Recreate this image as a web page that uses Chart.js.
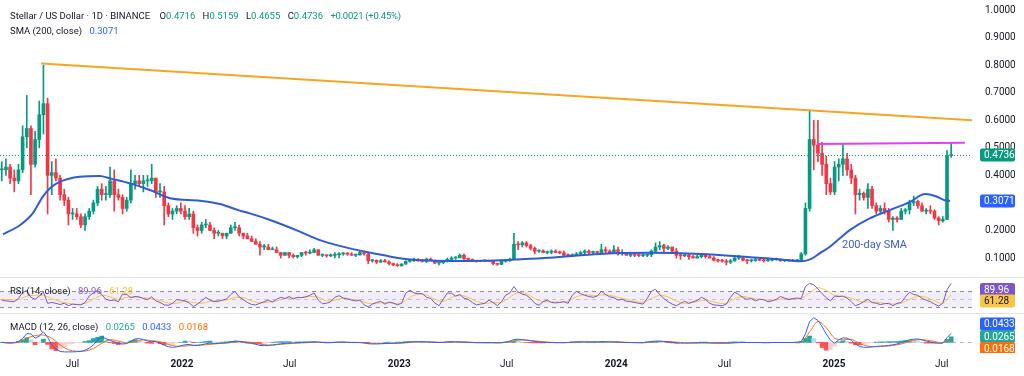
<!DOCTYPE html>
<html>
<head>
<meta charset="utf-8">
<title>Stellar / US Dollar</title>
<script src="https://cdn.jsdelivr.net/npm/chart.js@4.4.1/dist/chart.umd.min.js"></script>
<style>
  body { margin: 0; width: 1024px; height: 376px; overflow: hidden; background: #fff;
         font-family: Roboto, "Liberation Sans", sans-serif; color: #131722; }
  canvas { position: absolute; left: 0; }
  .sep { position: absolute; left: 0; width: 1024px; height: 1px; background: #e0e3eb; }
  .legend { position: absolute; left: 10px; font-size: 9.5px; line-height: 12px; white-space: nowrap; }
  .legend .v { margin-left: 5px; }
  .tight { letter-spacing: -0.25px; }
  .up { color: #089981; }
  .note { position: absolute; left: 842px; top: 238px; font-size: 11px; line-height: 13px; color: #3d5bd1; }
</style>
</head>
<body>
<canvas id="priceChart" width="1024" height="277" style="top:0"></canvas>
<canvas id="rsiChart" width="1024" height="36" style="top:277px"></canvas>
<canvas id="macdChart" width="1024" height="63" style="top:313px"></canvas>
<div class="sep" style="top:277px"></div>
<div class="sep" style="top:313px"></div>

<div class="legend" style="top:10px">Stellar / US Dollar · 1D · BINANCE
  <span class="v" style="margin-left:7px">O<span class="up">0.4716</span></span>
  <span class="v">H<span class="up">0.5159</span></span>
  <span class="v">L<span class="up">0.4655</span></span>
  <span class="v">C<span class="up">0.4736</span></span>
  <span class="v up tight">+0.0021 (+0.45%)</span></div>
<div class="legend" style="top:25px">SMA (200, close) <span class="v" id="smaLegend" style="color:#2962ff"></span></div>
<div class="legend" style="top:285px">RSI (14, close) <span class="v" id="rsiLegend" style="color:#7e57c2"></span> <span class="v" id="rsiMaLegend" style="color:#f2c230"></span></div>
<div class="legend" style="top:321px">MACD (12, 26, close) <span class="v" id="histLegend" style="color:#26a69a"></span> <span class="v" id="macdLegend" style="color:#2962ff"></span> <span class="v" id="signalLegend" style="color:#ff6d00"></span></div>
<div class="note">200-day SMA</div>

<script>
// weekly candles, week 0 = Mon 1 Mar 2021 (day 0)
const opens = [
  .42,.42,.43,.39,.38,.42,.54,.57,.44,.53,
  .62,.66,.40,.41,.39,.33,.31,.26,.26,.25,
  .22,.25,.27,.30,.35,.33,.33,.38,.33,.32,
  .28,.31,.37,.38,.37,.38,.38,.39,.34,.34,
  .29,.26,.27,.28,.27,.25,.26,.21,.20,.22,
  .22,.20,.19,.19,.18,.19,.21,.21,.19,.18,
  .17,.16,.15,.14,.14,.13,.13,.12,.11,.12,
  .11,.105,.11,.12,.118,.12,.13,.11,.11,.108,
  .11,.112,.115,.116,.114,.11,.111,.12,.115,.09,
  .092,.085,.09,.086,.08,.075,.072,.078,.088,.09,
  .092,.09,.088,.096,.092,.082,.083,.088,.095,.10,
  .101,.11,.097,.095,.09,.088,.09,.091,.088,.08,
  .077,.088,.09,.095,.15,.148,.155,.145,.135,.125,
  .126,.12,.121,.125,.12,.119,.11,.109,.11,.115,
  .12,.125,.12,.121,.12,.13,.125,.12,.13,.115,
  .12,.11,.111,.11,.109,.11,.112,.125,.14,.145,
  .135,.14,.125,.11,.108,.11,.105,.10,.105,.11,
  .105,.10,.092,.09,.089,.085,.09,.10,.101,.092,
  .09,.091,.095,.092,.09,.092,.095,.096,.09,.091,
  .092,.09,.091,.115,.28,.53,.51,.48,.44,.37,
  .34,.43,.44,.46,.42,.39,.33,.335,.32,.35,
  .29,.27,.28,.27,.24,.245,.24,.27,.275,.30,
  .305,.29,.27,.272,.27,.245,.235,.24,.4716
];
const highs = [
  .45,.46,.44,.42,.44,.58,.69,.58,.56,.67,
  .80,.68,.45,.46,.40,.35,.32,.28,.28,.26,
  .26,.28,.31,.36,.37,.36,.43,.42,.35,.33,
  .32,.42,.40,.40,.40,.40,.44,.39,.37,.36,
  .30,.28,.29,.30,.29,.28,.27,.22,.23,.24,
  .23,.21,.20,.19,.19,.22,.23,.22,.19,.19,
  .18,.17,.16,.15,.15,.14,.14,.12,.12,.12,
  .115,.11,.12,.125,.13,.135,.13,.115,.112,.115,
  .12,.12,.12,.12,.12,.115,.125,.125,.12,.095,
  .093,.095,.095,.09,.081,.08,.08,.09,.095,.10,
  .098,.095,.10,.10,.093,.085,.09,.10,.105,.105,
  .115,.115,.10,.097,.092,.092,.092,.093,.09,.08,
  .09,.093,.10,.19,.16,.16,.16,.15,.14,.13,
  .13,.125,.13,.13,.125,.125,.115,.115,.12,.125,
  .13,.13,.125,.125,.15,.14,.13,.145,.14,.13,
  .12,.115,.115,.115,.115,.115,.13,.155,.16,.15,
  .145,.14,.135,.115,.115,.115,.11,.11,.115,.115,
  .11,.105,.095,.095,.095,.095,.11,.11,.102,.095,
  .095,.10,.10,.095,.095,.098,.10,.097,.092,.095,
  .095,.095,.12,.30,.637,.60,.60,.52,.47,.39,
  .45,.46,.515,.48,.44,.40,.35,.34,.37,.36,
  .30,.29,.30,.28,.25,.25,.28,.28,.31,.325,
  .31,.30,.28,.29,.275,.25,.25,.49,.5159
];
const lows = [
  .38,.40,.37,.34,.37,.41,.50,.33,.43,.50,
  .55,.26,.33,.38,.31,.29,.22,.24,.24,.21,
  .20,.24,.26,.29,.31,.31,.32,.27,.31,.26,
  .27,.30,.35,.36,.34,.36,.37,.32,.32,.22,
  .25,.24,.26,.26,.24,.24,.19,.18,.19,.21,
  .20,.17,.18,.17,.17,.19,.20,.18,.17,.17,
  .16,.15,.11,.13,.13,.13,.12,.10,.11,.10,
  .10,.10,.105,.11,.115,.12,.11,.105,.103,.105,
  .10,.10,.11,.11,.11,.105,.11,.11,.08,.085,
  .08,.085,.085,.075,.072,.07,.07,.077,.085,.088,
  .088,.085,.083,.09,.08,.075,.08,.085,.09,.095,
  .10,.095,.093,.088,.085,.087,.087,.088,.075,.074,
  .076,.085,.088,.094,.13,.14,.14,.13,.115,.12,
  .12,.115,.115,.12,.115,.11,.105,.105,.11,.11,
  .115,.115,.115,.115,.12,.12,.115,.12,.11,.11,
  .11,.105,.105,.105,.105,.105,.105,.12,.13,.12,
  .13,.12,.10,.095,.105,.095,.10,.10,.10,.10,
  .10,.09,.085,.085,.075,.08,.088,.095,.09,.08,
  .085,.088,.09,.085,.088,.09,.092,.088,.087,.088,
  .088,.088,.09,.11,.27,.42,.45,.40,.33,.33,
  .33,.38,.40,.40,.37,.26,.31,.31,.28,.28,
  .26,.26,.26,.23,.20,.23,.24,.26,.26,.29,
  .28,.27,.26,.26,.24,.22,.23,.24,.4655
];
const closes = [
  .42,.43,.39,.38,.42,.54,.57,.44,.53,.62,
  .66,.40,.41,.39,.33,.31,.26,.26,.25,.22,
  .25,.27,.30,.35,.33,.33,.38,.33,.32,.28,
  .31,.37,.38,.37,.38,.38,.39,.34,.34,.29,
  .26,.27,.28,.27,.25,.26,.21,.20,.22,.22,
  .20,.19,.19,.18,.19,.21,.21,.19,.18,.17,
  .16,.15,.14,.14,.13,.13,.12,.11,.12,.11,
  .105,.11,.12,.118,.12,.13,.11,.11,.108,.11,
  .112,.115,.116,.114,.11,.111,.12,.115,.09,.092,
  .085,.09,.086,.08,.075,.072,.078,.088,.09,.092,
  .09,.088,.096,.092,.082,.083,.088,.095,.10,.101,
  .11,.097,.095,.09,.088,.09,.091,.088,.08,.077,
  .088,.09,.095,.15,.148,.155,.145,.135,.125,.126,
  .12,.121,.125,.12,.119,.11,.109,.11,.115,.12,
  .125,.12,.121,.12,.13,.125,.12,.13,.115,.12,
  .11,.111,.11,.109,.11,.112,.125,.14,.145,.135,
  .14,.125,.11,.108,.11,.105,.10,.105,.11,.105,
  .10,.092,.09,.089,.085,.09,.10,.101,.092,.09,
  .091,.095,.092,.09,.092,.095,.096,.09,.091,.092,
  .09,.091,.115,.28,.53,.51,.48,.44,.37,.34,
  .43,.44,.46,.42,.39,.33,.335,.32,.35,.29,
  .27,.28,.27,.24,.245,.24,.27,.275,.30,.305,
  .29,.27,.272,.27,.245,.235,.24,.4716,.4736
];

// 200-day SMA
const smaDays = [5,34,55,72,84,101,134,168,185,219,252,286,336,370,403,420,454,504,538,588,
  644,672,701,756,812,869,924,1009,1093,1177,1261,1311,1345,1362,1378,1395,1412,1429,1462,1496,
  1530,1555,1572,1589,1597];
const smaValues = [0.186,0.22,0.262,0.323,0.353,0.377,0.395,0.398,0.389,0.371,0.347,0.317,0.308,0.296,0.272,0.262,0.238,0.196,0.165,0.135,
  0.111,0.099,0.093,0.089,0.09,0.095,0.101,0.115,0.119,0.115,0.103,0.095,0.088,0.095,0.117,0.141,0.172,0.202,0.244,0.274,
  0.304,0.332,0.325,0.309,0.3071];

// drawn lines: falling resistance and the December top
const trendDays = [69, 1634];
const trendPrices = [0.806, 0.600];
const rangeDays = [1375, 1622];
const rangePrices = [0.514, 0.518];

// RSI (weekly samples) and its moving average (every second week)
const rsiValues = [
  48,46,45,44,52,67,72,55,50,58, 68,40,42,40,37,40,34,38,37,36,
  42,58,66,72,62,50,47,48,44,63, 62,54,57,56,52,49,56,46,42,36,
  35,40,49,48,46,41,32,38,46,55, 48,44,45,48,51,62,70,56,49,42,
  37,36,40,44,48,43,50,55,52,57, 51,55,54,56,60,66,48,39,40,44,
  55,59,53,51,48,46,48,36,31,38, 42,45,38,43,41,36,40,65,73,66,
  64,64,55,52,41,34,50,66,65,58, 62,53,50,42,36,38,40,48,42,34,
  44,60,66,82,68,63,60,52,40,35, 44,48,42,41,42,44,40,60,70,64,
  60,57,55,58,70,62,56,54,48,50, 45,44,42,40,38,52,70,75,62,52,
  44,38,34,40,45,40,44,47,55,50, 40,36,35,34,38,55,68,62,54,50,
  52,46,50,49,44,46,50,57,53,49, 52,53,52,82,90,86,76,64,54,46,
  58,57,58,53,44,34,38,44,50,42, 40,37,39,40,34,40,42,56,68,62,
  60,52,48,44,38,33,40,74,89.96
];
const rsiMaValues = [
  50,49,49,58,60,60,52,44,40,37, 40,50,60,56,50,55,56,54,51,47,
  41,40,45,42,40,45,47,48,55,54, 46,41,43,46,52,53,55,57,55,46,
  48,53,50,47,40,40,42,40,40,55, 63,61,50,45,55,60,55,45,40,42,
  42,55,67,64,52,44,44,43,45,56, 62,59,61,60,55,50,45,43,52,60,
  56,46,40,42,47,46,41,40,52,57, 53,50,48,48,52,51,52,66,79,72,
  60,57,53,45,43,43,40,38,40,50, 57,55,46,40,61.28
];

// MACD (weekly), signal (every second week), histogram (weekly)
const macdValues = [
  0.000,-0.003,-0.004,-0.002,0.004,0.018,0.042,0.040,0.020,0.030,
  0.050,0.025,-0.012,-0.032,-0.044,-0.046,-0.046,-0.046,-0.045,-0.044,
  -0.038,-0.028,-0.012,0.010,0.025,0.018,0.010,0.002,-0.005,-0.008,
  -0.006,0.006,0.016,0.018,0.013,0.006,0.003,0.004,-0.004,-0.014,
  -0.021,-0.024,-0.022,-0.016,-0.012,-0.010,-0.015,-0.015,-0.012,-0.007,
  -0.004,-0.006,-0.005,-0.004,-0.002,0.002,0.006,0.005,0.002,-0.002,
  -0.005,-0.010,-0.015,-0.016,-0.015,-0.013,-0.010,-0.007,-0.005,-0.004,
  -0.003,-0.002,-0.001,0.000,0.001,0.002,0.001,-0.001,-0.002,-0.002,
  0.000,0.001,0.001,0.000,-0.001,-0.001,-0.001,-0.003,-0.007,-0.008,
  -0.008,-0.007,-0.006,-0.005,-0.005,-0.004,-0.003,0.000,0.002,0.003,
  0.003,0.003,0.002,0.002,0.000,-0.001,0.000,0.002,0.003,0.002,
  0.002,0.001,0.000,-0.001,-0.002,-0.002,-0.002,-0.002,-0.002,-0.003,
  -0.002,0.000,0.006,0.013,0.015,0.013,0.010,0.007,0.004,0.002,
  0.000,-0.001,-0.001,-0.002,-0.002,-0.002,-0.001,0.001,0.002,0.002,
  0.002,0.002,0.002,0.002,0.003,0.003,0.002,0.002,0.001,0.000,
  -0.001,-0.001,-0.002,-0.002,-0.002,0.001,0.004,0.006,0.006,0.004,
  0.002,0.000,-0.003,-0.004,-0.004,-0.004,-0.003,-0.003,-0.002,-0.002,
  -0.003,-0.004,-0.004,-0.004,-0.004,-0.003,-0.001,0.000,0.000,-0.001,
  -0.001,-0.001,-0.001,-0.002,-0.002,-0.001,-0.001,-0.001,-0.001,-0.001,
  -0.001,0.000,0.004,0.040,0.100,0.118,0.105,0.075,0.040,0.010,
  -0.004,0.012,0.021,0.020,0.010,-0.008,-0.020,-0.024,-0.024,-0.022,
  -0.020,-0.018,-0.017,-0.015,-0.012,-0.008,-0.002,0.006,0.012,0.015,
  0.016,0.012,0.006,0.002,-0.002,-0.005,-0.004,0.022,0.0433
];
const signalValues = [
  0.000,-0.002,0.000,0.020,0.032,0.035,0.020,-0.012,-0.036,-0.043,
  -0.042,-0.030,-0.005,0.012,0.006,-0.003,0.004,0.012,0.008,0.003,
  -0.010,-0.019,-0.018,-0.014,-0.013,-0.010,-0.006,-0.004,0.001,0.003,
  -0.001,-0.009,-0.013,-0.012,-0.008,-0.005,-0.003,-0.001,0.001,0.000,
  -0.001,0.000,0.000,-0.001,-0.004,-0.006,-0.006,-0.005,-0.004,-0.001,
  0.002,0.002,0.001,0.000,0.002,0.002,0.001,-0.001,-0.002,-0.002,
  -0.002,0.002,0.010,0.011,0.007,0.003,0.000,-0.001,-0.001,0.001,
  0.002,0.002,0.002,0.002,0.002,0.000,-0.001,-0.002,0.000,0.004,
  0.004,0.001,-0.002,-0.003,-0.003,-0.003,-0.003,-0.004,-0.003,-0.001,
  -0.001,-0.001,-0.001,-0.001,-0.001,-0.001,0.000,0.050,0.100,0.070,
  0.020,0.012,0.014,-0.005,-0.019,-0.021,-0.019,-0.015,-0.008,0.004,
  0.012,0.011,0.004,-0.002,0.0168
];
const histValues = [
  0,-0.001,-0.002,0,0.004,0.012,0.022,0.012,-0.012,-0.004,
  0.015,-0.010,-0.032,-0.040,-0.032,-0.022,-0.010,-0.006,-0.002,-0.001,
  0.004,0.008,0.018,0.024,0.030,0.012,-0.002,-0.006,-0.011,-0.009,
  -0.003,0.006,0.012,0.010,0.001,-0.004,-0.005,-0.002,-0.007,-0.012,
  -0.011,-0.009,-0.003,0,0.006,0.005,-0.001,0,0.001,0.004,
  0.006,0.002,0.001,0.001,0.002,0.004,0.005,0.003,-0.001,-0.004,
  -0.004,-0.006,-0.006,-0.005,-0.002,0,0.002,0.003,0.003,0.003,
  0.002,0.002,0.002,0.002,0.002,0.002,0,-0.001,-0.002,-0.001,
  0.001,0.001,0.001,0,-0.001,-0.001,0,-0.002,-0.004,-0.003,
  -0.002,-0.001,0,0.001,0,0.001,0.001,0.003,0.003,0.002,
  0.001,0.001,0,0,-0.001,-0.001,0,0.001,0.001,0,
  0,-0.001,-0.001,-0.001,-0.001,-0.001,0,0,0,-0.001,
  0,0.002,0.004,0.007,0.005,0.002,-0.001,-0.002,-0.003,-0.003,
  -0.003,-0.002,-0.001,-0.001,-0.001,-0.001,0,0.001,0.001,0.001,
  0,0,0,0,0.001,0.001,0,0,-0.001,-0.001,
  -0.001,-0.001,-0.001,0,0,0.002,0.004,0.004,0.002,0,
  -0.002,-0.003,-0.004,-0.003,-0.002,-0.001,0,0,0.001,0.001,
  0,-0.001,-0.001,-0.001,0,0.001,0.002,0.001,0.001,0,
  0,0,0,-0.001,-0.001,0,0,0,0,0,
  0,0.001,0.004,0.020,0.030,0.018,-0.002,-0.025,-0.038,-0.035,
  -0.018,0.002,0.007,0.004,-0.004,-0.012,-0.013,-0.008,-0.004,-0.001,
  0.001,0.002,0.002,0.003,0.003,0.004,0.006,0.008,0.008,0.006,
  0.004,0,-0.004,-0.004,-0.004,-0.003,-0.002,0.014,0.0265
];

// axes
const priceTicks = [0.1,0.2,0.3,0.4,0.5,0.6,0.7,0.8,0.9,1.0];
const tickDays = [122, 306, 487, 671, 852, 1036, 1218, 1402, 1583];
const tickNames = ['Jul','2022','Jul','2023','Jul','2024','Jul','2025','Jul'];
const firstDay = 0, lastDay = 1634;
const axisWidth = 52;

const UP = '#089981', DOWN = '#f23645';
const FONT = 'Roboto, "Liberation Sans", sans-serif';
Chart.defaults.font.family = FONT;
Chart.defaults.animation = false;

const weekDay = i => 7 * i + 3;
const twoWeekDay = i => 14 * i + 3;
const candleColors = closes.map((c, i) => c >= opens[i] ? UP : DOWN);

function timeAxis(show) {
  return {
    type: 'linear', min: firstDay, max: lastDay, offset: false, display: show,
    grid: { display: false, drawTicks: false }, border: { display: false },
    afterBuildTicks: s => { s.ticks = tickDays.map(v => ({ value: v })); },
    afterFit: s => { if (show) s.height = 23; },
    ticks: {
      autoSkip: false, maxRotation: 0, padding: 5, color: '#131722',
      font: c => ({ family: FONT, size: 10, weight: tickNames[c.index] === 'Jul' ? 'normal' : 'bold' }),
      callback: (v, i) => tickNames[i]
    }
  };
}
function valueAxis(min, max) {
  return {
    position: 'right', min, max,
    grid: { display: false, drawTicks: false }, border: { display: false },
    afterFit: s => { s.width = axisWidth; s.paddingTop = 0; s.paddingBottom = 0; },
    ticks: { display: false }
  };
}
function tag(ctx, cy, text, bg, fg, bottom) {
  ctx.save();
  if (bottom !== undefined) { ctx.beginPath(); ctx.rect(972, 0, 60, bottom); ctx.clip(); }
  ctx.fillStyle = bg;
  ctx.beginPath();
  ctx.roundRect(980, cy - 6.5, 35, 13, 2);
  ctx.fill();
  ctx.fillStyle = fg;
  ctx.font = '10px ' + FONT;
  ctx.textBaseline = 'middle';
  ctx.fillText(text, 984, cy + 0.5);
  ctx.restore();
}
const baseOptions = {
  responsive: false, animation: false, events: [],
  layout: { padding: 0 },
  plugins: { legend: { display: false }, tooltip: { enabled: false } }
};

// ---- price pane
const lastClose = closes[closes.length - 1];
const lastSma = smaValues[smaValues.length - 1];
const priceExtras = {
  id: 'priceExtras',
  afterDatasetsDraw(chart) {
    const { ctx, chartArea: a, scales: { y } } = chart;
    const yy = Math.round(y.getPixelForValue(lastClose)) + 0.5;
    ctx.save();
    ctx.strokeStyle = UP; ctx.lineWidth = 1; ctx.setLineDash([1, 2]);
    ctx.beginPath(); ctx.moveTo(a.left, yy); ctx.lineTo(a.right, yy); ctx.stroke();
    ctx.restore();
  },
  afterDraw(chart) {
    const y = chart.scales.y;
    tag(chart.ctx, y.getPixelForValue(lastClose), lastClose.toFixed(4), UP, '#fff');
    tag(chart.ctx, y.getPixelForValue(lastSma), lastSma.toFixed(4), '#2962ff', '#fff');
  }
};
new Chart(document.getElementById('priceChart'), {
  type: 'bar',
  data: {
    datasets: [
      { type: 'line', order: 0, data: smaDays.map((d, i) => ({ x: d, y: smaValues[i] })),
        borderColor: '#2e5bd8', borderWidth: 2, pointRadius: 0, cubicInterpolationMode: 'monotone' },
      { type: 'line', order: 0, data: trendDays.map((d, i) => ({ x: d, y: trendPrices[i] })),
        borderColor: '#f5a524', borderWidth: 2, pointRadius: 0 },
      { type: 'line', order: 0, data: rangeDays.map((d, i) => ({ x: d, y: rangePrices[i] })),
        borderColor: '#e040fb', borderWidth: 2, pointRadius: 0 },
      { order: 2, data: lows.map((l, i) => ({ x: weekDay(i), y: [l, highs[i]] })),
        backgroundColor: candleColors, barThickness: 1, grouped: false },
      { order: 1, data: opens.map((o, i) => ({ x: weekDay(i), y: [o, closes[i]] })),
        backgroundColor: candleColors, barThickness: 3, grouped: false, minBarLength: 1 }
    ]
  },
  options: {
    ...baseOptions,
    scales: {
      x: timeAxis(false),
      y: {
        position: 'right', min: 0.0312, max: 1.0363,
        grid: { display: false, drawTicks: false }, border: { display: false },
        afterFit: s => { s.width = axisWidth; s.paddingTop = 0; s.paddingBottom = 0; },
        afterBuildTicks: s => { s.ticks = priceTicks.map(v => ({ value: v })); },
        ticks: { padding: 13, color: '#131722', font: { size: 10 }, callback: v => v.toFixed(4) }
      }
    }
  },
  plugins: [priceExtras]
});

// ---- RSI pane
const lastRsi = rsiValues[rsiValues.length - 1];
const lastRsiMa = rsiMaValues[rsiMaValues.length - 1];
const rsiExtras = {
  id: 'rsiExtras',
  beforeDatasetsDraw(chart) {
    const { ctx, chartArea: a, scales: { y } } = chart;
    const y70 = Math.round(y.getPixelForValue(70)) + 0.5;
    const y50 = Math.round(y.getPixelForValue(50)) + 0.5;
    const y30 = Math.round(y.getPixelForValue(30)) + 0.5;
    ctx.save();
    ctx.fillStyle = 'rgba(126,87,194,0.1)';
    ctx.fillRect(a.left, y70, a.right - a.left, y30 - y70);
    ctx.lineWidth = 1; ctx.setLineDash([4, 4]);
    ctx.strokeStyle = '#8a8d96';
    [y70, y30].forEach(v => { ctx.beginPath(); ctx.moveTo(a.left, v); ctx.lineTo(a.right, v); ctx.stroke(); });
    ctx.strokeStyle = 'rgba(138,141,150,0.45)';
    ctx.beginPath(); ctx.moveTo(a.left, y50); ctx.lineTo(a.right, y50); ctx.stroke();
    ctx.restore();
  },
  afterDraw(chart) {
    tag(chart.ctx, 12.5, lastRsi.toFixed(2), '#7e57c2', '#fff');
    tag(chart.ctx, 24, lastRsiMa.toFixed(2), '#f7c548', '#131722');
  }
};
new Chart(document.getElementById('rsiChart'), {
  type: 'line',
  data: {
    datasets: [
      { data: rsiValues.map((v, i) => ({ x: weekDay(i), y: v })),
        borderColor: '#7e57c2', borderWidth: 1, pointRadius: 0 },
      { data: rsiMaValues.map((v, i) => ({ x: twoWeekDay(i), y: v })),
        borderColor: '#f5c542', borderWidth: 1, pointRadius: 0, tension: 0.3 }
    ]
  },
  options: { ...baseOptions, scales: { x: timeAxis(false), y: valueAxis(15.75, 105.75) } },
  plugins: [rsiExtras]
});

// ---- MACD pane
const lastMacd = macdValues[macdValues.length - 1];
const lastSignal = signalValues[signalValues.length - 1];
const lastHist = histValues[histValues.length - 1];
const histColors = histValues.map((h, i) => {
  const prev = i > 0 ? histValues[i - 1] : 0;
  if (h >= 0) return h >= prev ? '#26a69a' : '#b2dfdb';
  return h <= prev ? '#ff5252' : '#ffcdd2';
});
const macdExtras = {
  id: 'macdExtras',
  beforeDatasetsDraw(chart) {
    const { ctx, chartArea: a, scales: { y } } = chart;
    const y0 = Math.round(y.getPixelForValue(0)) + 0.5;
    ctx.save();
    ctx.strokeStyle = 'rgba(138,141,150,0.6)'; ctx.lineWidth = 1; ctx.setLineDash([4, 4]);
    ctx.beginPath(); ctx.moveTo(a.left, y0); ctx.lineTo(a.right, y0); ctx.stroke();
    ctx.restore();
  },
  afterDraw(chart) {
    const b = chart.chartArea.bottom;
    tag(chart.ctx, 11, lastMacd.toFixed(4), '#2962ff', '#fff', b);
    tag(chart.ctx, 23.5, lastHist.toFixed(4), '#26a69a', '#fff', b);
    tag(chart.ctx, 35.5, lastSignal.toFixed(4), '#ff6d00', '#fff', b);
  }
};
new Chart(document.getElementById('macdChart'), {
  type: 'bar',
  data: {
    datasets: [
      { type: 'line', order: 0, data: macdValues.map((v, i) => ({ x: weekDay(i), y: v })),
        borderColor: '#2962ff', borderWidth: 1, pointRadius: 0 },
      { type: 'line', order: 1, data: signalValues.map((v, i) => ({ x: twoWeekDay(i), y: v })),
        borderColor: '#ff6d00', borderWidth: 1, pointRadius: 0, tension: 0.3 },
      { order: 2, data: histValues.map((v, i) => ({ x: weekDay(i), y: v })),
        backgroundColor: histColors, barThickness: 4, grouped: false }
    ]
  },
  options: { ...baseOptions, scales: { x: timeAxis(true), y: valueAxis(-0.0514, 0.1409) } },
  plugins: [macdExtras]
});

document.getElementById('smaLegend').textContent = lastSma.toFixed(4);
document.getElementById('rsiLegend').textContent = lastRsi.toFixed(2);
document.getElementById('rsiMaLegend').textContent = lastRsiMa.toFixed(2);
document.getElementById('histLegend').textContent = lastHist.toFixed(4);
document.getElementById('macdLegend').textContent = lastMacd.toFixed(4);
document.getElementById('signalLegend').textContent = lastSignal.toFixed(4);
</script>
</body>
</html>
